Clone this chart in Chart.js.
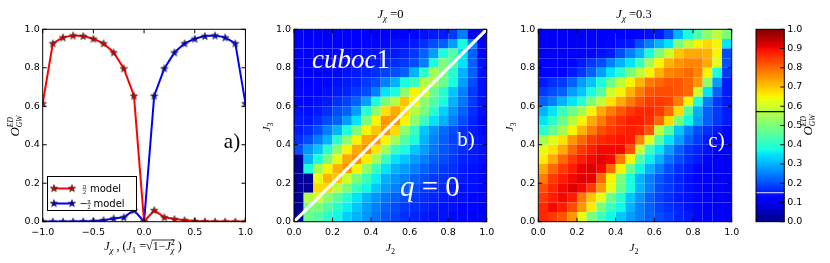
<!DOCTYPE html>
<html><head><meta charset="utf-8">
<script src="https://cdn.jsdelivr.net/npm/chart.js@4.4.0/dist/chart.umd.min.js"></script>
<style>
html,body{margin:0;padding:0;background:#fff;width:830px;height:263px;overflow:hidden;position:relative}
canvas{position:absolute;top:0}
</style></head><body>
<canvas id="ca" width="258" height="263" style="left:0px"></canvas>
<canvas id="cb" width="242" height="263" style="left:258px"></canvas>
<canvas id="cc" width="245" height="263" style="left:500px"></canvas>
<canvas id="cbar" width="85" height="263" style="left:745px"></canvas>
<script>
// ---------------- DATA ----------------
const JX = [-1.0,-0.9,-0.8,-0.7,-0.6,-0.5,-0.4,-0.3,-0.2,-0.1,0.0,0.1,0.2,0.3,0.4,0.5,0.6,0.7,0.8,0.9,1.0];
const PI2_MODEL  = [0.615,0.927,0.958,0.968,0.965,0.951,0.927,0.880,0.797,0.655,0.0,0.060,0.023,0.014,0.008,0.004,0.002,0.001,0.001,0.001,0.001];
const MPI2_MODEL = [0.001,0.001,0.001,0.001,0.002,0.004,0.008,0.017,0.023,0.060,0.0,0.655,0.797,0.880,0.927,0.951,0.965,0.968,0.958,0.927,0.615];
const J2_EDGES = [0.00,0.05,0.10,0.15,0.20,0.25,0.30,0.35,0.40,0.45,0.50,0.55,0.60,0.65,0.70,0.75,0.80,0.85,0.90,0.95];
const J3_EDGES = [0.00,0.05,0.10,0.15,0.20,0.25,0.30,0.35,0.40,0.45,0.50,0.55,0.60,0.65,0.70,0.75,0.80,0.85,0.90,0.95];
const CELL = 0.05;
// rows from J3=0 (bottom) to J3=0.95 (top); columns J2=0 .. 0.95
const HEAT_JCHI_0 = [
 [0.02,0.48,0.45,0.40,0.37,0.33,0.30,0.27,0.24,0.21,0.19,0.17,0.16,0.15,0.14,0.14,0.13,0.13,0.12,0.12],
 [0.02,0.50,0.50,0.45,0.40,0.36,0.32,0.28,0.25,0.22,0.20,0.18,0.17,0.16,0.15,0.14,0.14,0.13,0.13,0.12],
 [0.02,0.57,0.60,0.52,0.46,0.40,0.35,0.30,0.27,0.24,0.22,0.20,0.18,0.17,0.16,0.15,0.14,0.14,0.13,0.13],
 [0.02,0.02,0.68,0.68,0.58,0.50,0.42,0.37,0.32,0.28,0.25,0.22,0.20,0.18,0.17,0.16,0.15,0.14,0.14,0.13],
 [0.02,0.02,0.63,0.72,0.70,0.60,0.50,0.42,0.36,0.30,0.27,0.25,0.22,0.20,0.18,0.17,0.16,0.15,0.14,0.13],
 [0.02,0.38,0.55,0.65,0.72,0.75,0.65,0.53,0.42,0.35,0.30,0.28,0.25,0.22,0.20,0.18,0.17,0.15,0.14,0.13],
 [0.02,0.30,0.38,0.50,0.63,0.73,0.76,0.66,0.55,0.42,0.35,0.32,0.28,0.25,0.22,0.20,0.18,0.16,0.15,0.14],
 [0.20,0.27,0.32,0.40,0.52,0.65,0.73,0.76,0.67,0.55,0.42,0.38,0.32,0.28,0.24,0.21,0.19,0.17,0.15,0.14],
 [0.17,0.20,0.25,0.30,0.40,0.52,0.65,0.73,0.75,0.65,0.55,0.45,0.38,0.30,0.25,0.22,0.19,0.17,0.15,0.14],
 [0.15,0.17,0.20,0.25,0.30,0.38,0.50,0.65,0.70,0.75,0.68,0.52,0.42,0.32,0.27,0.23,0.20,0.17,0.15,0.13],
 [0.15,0.15,0.17,0.20,0.22,0.28,0.35,0.50,0.65,0.75,0.75,0.65,0.52,0.42,0.35,0.30,0.25,0.20,0.16,0.13],
 [0.14,0.14,0.15,0.17,0.20,0.22,0.28,0.40,0.52,0.67,0.73,0.68,0.57,0.50,0.40,0.33,0.27,0.22,0.17,0.14],
 [0.13,0.13,0.14,0.15,0.17,0.19,0.22,0.28,0.38,0.50,0.57,0.70,0.65,0.52,0.45,0.38,0.30,0.24,0.18,0.14],
 [0.13,0.13,0.13,0.14,0.15,0.16,0.18,0.20,0.25,0.35,0.38,0.52,0.65,0.60,0.48,0.40,0.32,0.25,0.18,0.14],
 [0.12,0.12,0.13,0.13,0.14,0.15,0.16,0.18,0.20,0.25,0.30,0.38,0.42,0.57,0.55,0.48,0.38,0.28,0.20,0.14],
 [0.12,0.12,0.12,0.13,0.13,0.14,0.15,0.16,0.17,0.19,0.20,0.22,0.30,0.40,0.55,0.50,0.40,0.30,0.22,0.14],
 [0.12,0.12,0.12,0.12,0.13,0.13,0.14,0.14,0.15,0.16,0.17,0.18,0.20,0.25,0.38,0.50,0.45,0.35,0.22,0.14],
 [0.11,0.11,0.12,0.12,0.12,0.13,0.13,0.14,0.14,0.15,0.15,0.16,0.18,0.22,0.28,0.38,0.45,0.35,0.22,0.13],
 [0.11,0.11,0.11,0.11,0.12,0.12,0.12,0.13,0.13,0.13,0.14,0.14,0.15,0.17,0.20,0.22,0.28,0.38,0.25,0.12],
 [0.10,0.10,0.10,0.10,0.11,0.11,0.11,0.11,0.12,0.12,0.12,0.12,0.13,0.14,0.15,0.15,0.18,0.25,0.10,0.08]
];
const HEAT_JCHI_03 = [
 [0.87,0.85,0.82,0.75,0.63,0.50,0.43,0.37,0.32,0.28,0.25,0.22,0.20,0.18,0.16,0.15,0.13,0.12,0.11,0.10],
 [0.87,0.90,0.88,0.83,0.75,0.66,0.50,0.42,0.37,0.30,0.25,0.22,0.19,0.17,0.16,0.14,0.13,0.12,0.11,0.10],
 [0.85,0.88,0.90,0.88,0.78,0.70,0.63,0.48,0.40,0.32,0.27,0.22,0.19,0.17,0.15,0.14,0.13,0.12,0.11,0.10],
 [0.83,0.87,0.90,0.92,0.90,0.85,0.75,0.63,0.48,0.38,0.30,0.25,0.20,0.18,0.16,0.14,0.13,0.12,0.11,0.10],
 [0.78,0.85,0.88,0.90,0.92,0.91,0.80,0.65,0.50,0.38,0.30,0.25,0.21,0.18,0.16,0.14,0.12,0.11,0.10,0.10],
 [0.73,0.80,0.85,0.88,0.91,0.92,0.90,0.80,0.65,0.48,0.37,0.30,0.25,0.20,0.17,0.15,0.13,0.12,0.11,0.10],
 [0.66,0.73,0.80,0.85,0.88,0.90,0.91,0.90,0.78,0.65,0.45,0.36,0.30,0.24,0.20,0.17,0.15,0.13,0.12,0.10],
 [0.63,0.67,0.73,0.80,0.85,0.88,0.90,0.90,0.90,0.83,0.60,0.42,0.35,0.28,0.22,0.18,0.16,0.14,0.12,0.11],
 [0.55,0.62,0.67,0.75,0.80,0.85,0.87,0.88,0.89,0.88,0.77,0.62,0.45,0.35,0.28,0.22,0.18,0.15,0.13,0.12],
 [0.40,0.47,0.55,0.65,0.72,0.78,0.83,0.85,0.87,0.88,0.87,0.82,0.58,0.45,0.32,0.25,0.20,0.17,0.15,0.13],
 [0.35,0.40,0.48,0.57,0.65,0.73,0.78,0.83,0.86,0.88,0.88,0.86,0.80,0.68,0.50,0.37,0.28,0.22,0.18,0.15],
 [0.30,0.35,0.42,0.48,0.55,0.65,0.73,0.78,0.82,0.85,0.87,0.87,0.85,0.80,0.68,0.45,0.30,0.22,0.18,0.15],
 [0.22,0.25,0.30,0.35,0.40,0.50,0.58,0.67,0.73,0.78,0.82,0.85,0.85,0.84,0.78,0.65,0.38,0.25,0.18,0.15],
 [0.18,0.20,0.22,0.28,0.32,0.38,0.45,0.60,0.65,0.72,0.78,0.82,0.83,0.83,0.82,0.80,0.60,0.35,0.22,0.15],
 [0.15,0.17,0.18,0.22,0.28,0.32,0.38,0.48,0.58,0.65,0.72,0.78,0.80,0.82,0.82,0.80,0.75,0.52,0.28,0.15],
 [0.12,0.12,0.12,0.15,0.18,0.22,0.28,0.35,0.40,0.50,0.58,0.65,0.72,0.77,0.78,0.80,0.77,0.65,0.38,0.18],
 [0.11,0.11,0.12,0.13,0.15,0.18,0.20,0.25,0.30,0.35,0.42,0.55,0.65,0.72,0.75,0.77,0.77,0.73,0.62,0.20],
 [0.10,0.10,0.10,0.11,0.12,0.13,0.14,0.15,0.20,0.25,0.30,0.38,0.50,0.60,0.70,0.73,0.73,0.72,0.65,0.20],
 [0.10,0.10,0.10,0.10,0.11,0.11,0.12,0.13,0.14,0.15,0.20,0.25,0.30,0.35,0.50,0.58,0.65,0.68,0.65,0.35],
 [0.10,0.10,0.10,0.10,0.10,0.11,0.11,0.11,0.12,0.12,0.13,0.14,0.15,0.20,0.30,0.38,0.45,0.52,0.58,0.50]
];
const DIAG = [[0,0],[1,1]];
const CBAR_MARKS = [0.572, 0.151];
const TICKS_A_X = 0.5, TICKS_A_Y = 0.2, TICKS_HEAT = 0.2, TICKS_CBAR = 0.1;

// ---------------- helpers ----------------
const SANS = 'DejaVu Sans';
const SERIF = 'Liberation Serif';
const TICK_FONT = 9.5;
const JET = {
  r:[[0,0],[0.35,0],[0.66,1],[0.89,1],[1,0.5]],
  g:[[0,0],[0.125,0],[0.375,1],[0.64,1],[0.91,0],[1,0]],
  b:[[0,0.5],[0.11,1],[0.34,1],[0.65,0],[1,0]]
};
function seg(p,v){for(let k=1;k<p.length;k++){if(v<=p[k][0]){const[x0,y0]=p[k-1],[x1,y1]=p[k];return y0+(y1-y0)*(v-x0)/(x1-x0);}}return p[p.length-1][1];}
function jet(v){v=Math.max(0,Math.min(1,v));return `rgb(${Math.round(255*seg(JET.r,v))},${Math.round(255*seg(JET.g,v))},${Math.round(255*seg(JET.b,v))})`;}
const fmt = v => v.toFixed(1).replace('-', '\u2212');

function starImg(fill){
  const s=10,c=document.createElement('canvas');c.width=s;c.height=s;
  const g=c.getContext('2d');g.translate(s/2,s/2+0.4);g.beginPath();
  for(let k=0;k<10;k++){const r=k%2?1.6:3.9;const a=-Math.PI/2+k*Math.PI/5;g.lineTo(r*Math.cos(a),r*Math.sin(a));}
  g.closePath();g.fillStyle=fill;g.fill();g.lineWidth=0.7;g.strokeStyle='#333';g.stroke();return c;
}
const STAR_R = starImg('#d00000'), STAR_B = starImg('#0000d0');

function rich(ctx, parts, x, y, opt={}){
  const align=opt.align||'center', angle=opt.angle||0, color=opt.color||'#000';
  ctx.save();ctx.translate(x,y);if(angle)ctx.rotate(angle);
  ctx.textBaseline='alphabetic';ctx.textAlign='left';
  const lay=[];let cx=0,pend=0;
  for(const p of parts){ctx.font=p.f;const w=ctx.measureText(p.t).width;lay.push({p,x:cx,w});
    if(p.stack){pend=Math.max(pend,w);}else{cx+=Math.max(w,pend);pend=0;}}
  cx+=pend;
  const off=align==='center'?-cx/2:align==='right'?-cx:0;
  let olS=null,olE=-1e9,olY=0;
  for(const L of lay){ctx.font=L.p.f;ctx.fillStyle=color;ctx.fillText(L.p.t,off+L.x,L.p.dy||0);
    if(L.p.ol!==undefined){if(olS===null)olS=off+L.x;olE=Math.max(olE,off+L.x+L.w);olY=L.p.ol;}}
  if(olS!==null){ctx.strokeStyle=color;ctx.lineWidth=0.8;ctx.beginPath();ctx.moveTo(olS-1,olY);ctx.lineTo(olE,olY);ctx.stroke();}
  ctx.restore();
}
const it = (s)=>`italic ${s}px "${SERIF}"`;
const rm = (s)=>`${s}px "${SERIF}"`;

function decor(offsetX, opts){
  return {
    id:'decor'+offsetX,
    afterDatasetsDraw(chart){ if(opts.over){const ctx=chart.ctx;ctx.save();ctx.translate(-offsetX,0);opts.over(ctx,chart);ctx.restore();} },
    afterDraw(chart){
      const ctx=chart.ctx,a=chart.chartArea,L=opts.tickLen||4;
      ctx.save();ctx.strokeStyle='#000';ctx.lineWidth=1;
      const xs=chart.scales.x, ys=chart.scales.y;
      if(opts.xticks && xs){for(const t of xs.ticks){const p=xs.getPixelForValue(t.value);
        ctx.beginPath();ctx.moveTo(p,a.bottom);ctx.lineTo(p,a.bottom-L);ctx.moveTo(p,a.top);ctx.lineTo(p,a.top+L);ctx.stroke();}}
      if(opts.yticks && ys){for(const t of ys.ticks){const p=ys.getPixelForValue(t.value);
        ctx.beginPath();
        if(opts.yticks!=='right'){ctx.moveTo(a.left,p);ctx.lineTo(a.left+L,p);}
        ctx.moveTo(a.right,p);ctx.lineTo(a.right-L,p);ctx.stroke();}}
      ctx.strokeRect(a.left,a.top,a.right-a.left,a.bottom-a.top);
      ctx.restore();
      if(opts.after){ctx.save();ctx.translate(-offsetX,0);opts.after(ctx,chart);ctx.restore();}
    }
  };
}
const common = {
  responsive:false, animation:false, devicePixelRatio:1, events:[],
  plugins:{legend:{display:false},tooltip:{enabled:false},title:{display:false}}
};
function xAxis(min,max,step,h){return {type:'linear',min,max,offset:false,
  grid:{display:false,drawTicks:false,tickLength:0,offset:false},border:{display:false},
  ticks:{stepSize:step,autoSkip:false,maxRotation:0,padding:5,color:'#000',font:{family:SANS,size:TICK_FONT},callback:v=>fmt(v)},
  afterFit(s){s.height=h;}};}
function yAxis(min,max,step,w,pos){return {type:'linear',min,max,position:pos||'left',
  grid:{display:false,drawTicks:false,tickLength:0},border:{display:false},
  ticks:{stepSize:step,autoSkip:false,padding:3,color:'#000',font:{family:SANS,size:TICK_FONT},callback:v=>fmt(v)},
  afterFit(s){s.width=w;}};}

// ---------------- Panel a ----------------
new Chart(document.getElementById('ca'),{
  type:'line',
  data:{datasets:[
    {data:JX.map((x,i)=>({x,y:PI2_MODEL[i]})),borderColor:'#ff0000',borderWidth:2,pointStyle:STAR_R,tension:0},
    {data:JX.map((x,i)=>({x,y:MPI2_MODEL[i]})),borderColor:'#0000ff',borderWidth:2,pointStyle:STAR_B,tension:0}
  ]},
  options:{...common,
    layout:{padding:{left:0,right:10.7,top:29.3,bottom:0}},
    scales:{x:xAxis(-1,1,TICKS_A_X,41.3),y:yAxis(0,1,TICKS_A_Y,42.7)}
  },
  plugins:[decor(0,{xticks:true,yticks:true,
    over(ctx){
      ctx.fillStyle='#fff';ctx.fillRect(47.5,176.5,89,34);
      ctx.strokeStyle='#000';ctx.lineWidth=1;ctx.strokeRect(47.5,176.5,89,34);
      const ent=[{c:'#ff0000',img:STAR_R,y:188.5,minus:false,tx:90},{c:'#0000ff',img:STAR_B,y:203.5,minus:true,tx:93.5}];
      for(const e of ent){
        ctx.strokeStyle=e.c;ctx.lineWidth=2;ctx.beginPath();ctx.moveTo(54,e.y);ctx.lineTo(72,e.y);ctx.stroke();
        ctx.drawImage(e.img,54-5,e.y-5.4);ctx.drawImage(e.img,72-5,e.y-5.4);
        let fx=84.5;
        ctx.fillStyle='#000';
        if(e.minus){ctx.font=`10px "${SANS}"`;ctx.textAlign='left';ctx.fillText('\u2212',79.5,e.y+3.5);fx=89;}
        ctx.font=`6px "${SERIF}"`;ctx.textAlign='center';
        ctx.fillText('\u03c0',fx,e.y-0.8);ctx.fillText('2',fx,e.y+5.2);
        ctx.lineWidth=0.6;ctx.strokeStyle='#000';ctx.beginPath();ctx.moveTo(fx-1.8,e.y+0.2);ctx.lineTo(fx+1.8,e.y+0.2);ctx.stroke();
        ctx.font=`10px "${SANS}"`;ctx.textAlign='left';ctx.fillText('model',e.tx,e.y+3.6);
      }
    },
    after(ctx){
      rich(ctx,[{t:'J',f:it(12)},{t:'\u03c7',f:it(9),dy:3},{t:' , (',f:rm(12)},{t:'J',f:it(12)},{t:'1',f:rm(9),dy:3},
        {t:' =',f:rm(12)},{t:'\u221a',f:rm(12)},{t:'1\u2212',f:rm(12),ol:-10},{t:'J',f:it(12),ol:-10},
        {t:'2',f:rm(8),dy:-5,stack:true,ol:-10},{t:'\u03c7',f:it(8),dy:3,ol:-10},{t:' )',f:rm(12)}],143,250);
      rich(ctx,[{t:'O',f:it(13)},{t:'ED',f:it(7.5),dy:-6,stack:true},{t:'GW',f:it(7.5),dy:3}],18.5,126,{angle:-Math.PI/2});
      ctx.fillStyle='#000';ctx.font=rm(21);ctx.textAlign='center';ctx.fillText('a)',232,148);
    }
  })]
});

// ---------------- Heatmaps ----------------
function heatSets(grid){
  return grid.map((row,j)=>({type:'bar',order:1,grouped:false,barPercentage:1,categoryPercentage:1,borderWidth:0,inflateAmount:0,
    data:row.map((v,i)=>({x:J2_EDGES[i]+CELL/2,y:[J3_EDGES[j],J3_EDGES[j]+CELL]})),
    backgroundColor:row.map(v=>jet(v))}));
}
function heatLabels(ctx,cx,ylx,title){
  rich(ctx,[{t:'J',f:it(12.5)},{t:'\u03c7',f:it(9),dy:3},{t:' =',f:rm(12.5)},{t:title,f:rm(12.5)}],cx,18);
  rich(ctx,[{t:'J',f:it(11)},{t:'3',f:rm(8),dy:3}],ylx,127,{angle:-Math.PI/2});
  rich(ctx,[{t:'J',f:it(11)},{t:'2',f:rm(8),dy:3}],cx,251);
}
new Chart(document.getElementById('cb'),{
  type:'bar',
  data:{datasets:[...heatSets(HEAT_JCHI_0),
    {type:'line',order:0,data:DIAG.map(p=>({x:p[0],y:p[1]})),borderColor:'#ffffff',borderWidth:3.2,pointRadius:0}]},
  options:{...common,
    layout:{padding:{left:0,right:13.3,top:29.3,bottom:0}},
    scales:{x:xAxis(0,1,TICKS_HEAT,41.3),y:yAxis(0,1,TICKS_HEAT,36)}
  },
  plugins:[decor(258,{xticks:true,yticks:true,
    after(ctx){
      heatLabels(ctx,390.5,270,'0');
      ctx.fillStyle='#fff';ctx.textAlign='left';
      ctx.font=it(27);ctx.fillText('cuboc',312,68);
      const w=ctx.measureText('cuboc').width;ctx.font=rm(27);ctx.fillText('1',312+w,68);
      ctx.font=rm(21);ctx.textAlign='center';ctx.fillText('b)',466,146);
      ctx.textAlign='left';ctx.font=it(29);ctx.fillText('q',400,196);
      const wq=ctx.measureText('q').width;ctx.font=rm(29);ctx.fillText(' = 0',400+wq,196);
    }
  })]
});
new Chart(document.getElementById('cc'),{
  type:'bar',
  data:{datasets:heatSets(HEAT_JCHI_03)},
  options:{...common,
    layout:{padding:{left:0,right:13.3,top:29.3,bottom:0}},
    scales:{x:xAxis(0,1,TICKS_HEAT,41.3),y:yAxis(0,1,TICKS_HEAT,38.3)}
  },
  plugins:[decor(500,{xticks:true,yticks:true,
    after(ctx){
      heatLabels(ctx,634,513,'0.3');
      ctx.fillStyle='#fff';ctx.font=rm(21);ctx.textAlign='center';ctx.fillText('c)',716.5,147);
    }
  })]
});

// ---------------- Colorbar ----------------
new Chart(document.getElementById('cbar'),{
  type:'bar',
  data:{labels:[''],datasets:[{data:[[0,1]],barPercentage:1,categoryPercentage:1,borderWidth:0,
    backgroundColor(c){const a=c.chart.chartArea;if(!a)return '#00f';
      const g=c.chart.ctx.createLinearGradient(0,a.bottom,0,a.top);
      for(let k=0;k<=64;k++)g.addColorStop(k/64,jet(k/64));return g;}}]},
  options:{...common,
    layout:{padding:{left:11,right:0,top:29.3,bottom:41.3}},
    scales:{x:{display:false,offset:true},y:yAxis(0,1,TICKS_CBAR,45.7,'right')}
  },
  plugins:[decor(745,{yticks:'right',
    over(ctx,chart){
      const a=chart.chartArea,ys=chart.scales.y;
      const cols=['#000000','#c8c0ff'];
      CBAR_MARKS.forEach((v,k)=>{const p=ys.getPixelForValue(v);ctx.strokeStyle=cols[k];ctx.lineWidth=1.2;
        ctx.beginPath();ctx.moveTo(a.left+745,p);ctx.lineTo(a.right+745,p);ctx.stroke();});
    },
    after(ctx){
      rich(ctx,[{t:'O',f:it(13)},{t:'ED',f:it(7.5),dy:-6,stack:true},{t:'GW',f:it(7.5),dy:3}],812,125,{angle:-Math.PI/2});
    }
  })]
});
</script>
</body></html>
